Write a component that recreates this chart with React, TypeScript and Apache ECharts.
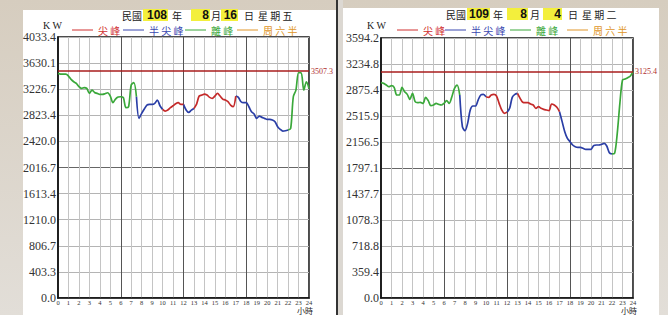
import React, { useEffect, useRef } from "react";
import * as echarts from "echarts";

// time of day, hours (quarter-hour readings)
const hours: number[] = Array.from({ length: 97 }, (_, i) => i * 0.25);

// 民國108年8月16日 星期五 (KW)
const leftLoad: number[] = [
  3471, 3461, 3461, 3461, 3430, 3378, 3342, 3317, 3265, 3239, 3250, 3239,
  3162, 3213, 3177, 3162, 3147, 3147, 3157, 3172, 3121, 3018, 3074, 3105,
  3110, 3095, 2941, 2956, 3291, 3327, 3110, 2776, 2853, 2920, 2982, 2992,
  2992, 3008, 3059, 2971, 2915, 2889, 2904, 2941, 2971, 3002, 3018, 2992,
  2992, 2904, 2868, 2904, 2930, 2997, 3121, 3136, 3152, 3136, 3100, 3085,
  3121, 3162, 3121, 3074, 3059, 3033, 2982, 2956, 3121, 3100, 3033, 3018,
  3018, 2956, 2879, 2843, 2776, 2812, 2791, 2776, 2760, 2760, 2750, 2724,
  2647, 2606, 2580, 2585, 2596, 2621, 3110, 3213, 3481, 3481, 3213, 3342,
  3239,
];

// 民國109年8月4日 星期二 (KW)
const rightLoad: number[] = [
  2977, 2967, 2944, 2921, 2935, 2912, 2806, 2806, 2912, 2852, 2815, 2746,
  2829, 2714, 2700, 2705, 2691, 2774, 2728, 2659, 2668, 2691, 2677, 2668,
  2691, 2728, 2691, 2783, 2898, 2944, 2806, 2368, 2313, 2414, 2599, 2654,
  2654, 2737, 2806, 2815, 2783, 2774, 2806, 2815, 2792, 2691, 2599, 2553,
  2567, 2622, 2774, 2815, 2829, 2760, 2705, 2700, 2700, 2682, 2668, 2622,
  2645, 2622, 2608, 2599, 2590, 2682, 2668, 2636, 2576, 2438, 2299, 2207,
  2161, 2115, 2092, 2083, 2083, 2069, 2055, 2055, 2055, 2106, 2115, 2115,
  2124, 2138, 2101, 2009, 1991, 2000, 2276, 2691, 3014, 3027, 3046, 3069,
  3129,
];

const leftYLabels = ["0.0", "403.3", "806.7", "1210.0", "1613.4", "2016.7", "2420.0", "2823.4", "3226.7", "3630.1", "4033.4"];
const rightYLabels = ["0.0", "359.4", "718.8", "1078.3", "1437.7", "1797.1", "2156.5", "2515.9", "2875.4", "3234.8", "3594.2"];
const leftYMax = 4033.4;
const rightYMax = 3594.2;
const leftLimit = 3507.3;
const rightLimit = 3125.4;
const xTicks = ["0", "1", "2", "3", "4", "5", "6", "7", "8", "9", "10", "11", "12", "13", "14", "15", "16", "17", "18", "19", "20", "21", "22", "23", "24"];

const leftDate = { year: "108", month: "8", day: "16", weekday: "星期五" };
const rightDate = { year: "109", month: "8", day: "4", weekday: "星期二" };

const periods = [
  { name: "離峰", color: "#3aa83a", ranges: [[0, 7.5], [22, 24]] },
  { name: "半尖峰", color: "#2a3ea6", ranges: [[7.5, 10], [12, 13], [17, 22]] },
  { name: "尖峰", color: "#c42a2a", ranges: [[10, 12], [13, 17]] },
];
const legendItems = [
  { name: "尖峰", color: "#d03030" },
  { name: "半尖峰", color: "#3a48b0" },
  { name: "離峰", color: "#3aa83a" },
  { name: "周六半", color: "#e0962a" },
];

const SERIF = "'Liberation Serif', 'DejaVu Serif', serif";
const CJK = "'Noto Sans CJK TC', 'Noto Sans CJK SC', sans-serif";

function App() {
  const ref = useRef<HTMLDivElement>(null);
  useEffect(() => {
    document.body.style.margin = "0";
    const chart = echarts.init(ref.current!, null, { renderer: "svg" });

    const vGridColors = xTicks.map((_, i) => (i % 6 === 0 ? "#555" : "#c4c4c4"));
    const hGridColors = leftYLabels.map((_, i) => (i === 5 ? "#666" : "#b4b4b4"));

    const grids = [
      { left: 58, top: 37, width: 251, height: 261 },
      { left: 381, top: 38, width: 252, height: 260 },
    ];
    const xAxes = grids.map((_, gi) => ({
      type: "value",
      gridIndex: gi,
      min: 0,
      max: 24,
      interval: 1,
      axisLine: { show: true, lineStyle: { color: "#111", width: 1.5 } },
      axisTick: { show: false },
      axisLabel: { fontSize: 6.5, fontFamily: SERIF, color: "#333", margin: 1, formatter: (_v: number, i: number) => xTicks[i] },
      splitLine: { show: true, lineStyle: { color: vGridColors, width: 1 } },
    }));
    const yAxes = [
      { max: leftYMax, labels: leftYLabels },
      { max: rightYMax, labels: rightYLabels },
    ].map((a, gi) => ({
      type: "value",
      gridIndex: gi,
      min: 0,
      max: a.max,
      interval: a.max / 10,
      axisLine: { show: true, lineStyle: { color: "#111", width: 1.5 } },
      axisTick: { show: false },
      axisLabel: { fontSize: 12, fontFamily: SERIF, color: "#333", margin: 2, formatter: (_v: number, i: number) => a.labels[i] },
      splitLine: { show: true, lineStyle: { color: hGridColors, width: 1 } },
    }));

    const inPeriod = (t: number, ranges: number[][]) => ranges.some(([a, b]) => t >= a && t <= b);
    const series: any[] = [];
    [
      { data: leftLoad, limit: leftLimit },
      { data: rightLoad, limit: rightLimit },
    ].forEach((c, gi) => {
      periods.forEach((p, pi) => {
        series.push({
          type: "line",
          name: p.name,
          xAxisIndex: gi,
          yAxisIndex: gi,
          symbol: "none",
          smooth: 0.3,
          connectNulls: false,
          lineStyle: { color: p.color, width: 1.7 },
          data: hours.map((t, i) => [t, inPeriod(t, p.ranges) ? c.data[i] : null]),
          markLine:
            pi === 0
              ? {
                  silent: true,
                  symbol: "none",
                  lineStyle: { color: "#a81c1c", width: 1.5, type: "solid" },
                  label: { show: true, position: "end", formatter: String(c.limit), color: "#b03030", fontSize: 8, fontFamily: SERIF, distance: 2 },
                  data: [{ yAxis: c.limit }],
                }
              : undefined,
        });
      });
    });

    const graphics: any[] = [];
    // background and panels
    graphics.push({
      type: "rect",
      z: -10,
      shape: { x: 0, y: 0, width: 668, height: 315 },
      style: {
        fill: new echarts.graphic.LinearGradient(0, 0, 0, 1, [
          { offset: 0, color: "#d6cdbf" },
          { offset: 1, color: "#e2ded8" },
        ]),
      },
    });
    graphics.push({ type: "rect", z: -9, shape: { x: 23, y: 10, width: 313, height: 310 }, style: { fill: "#ffffff" } });
    graphics.push({ type: "rect", z: -9, shape: { x: 343, y: 8, width: 316, height: 310 }, style: { fill: "#ffffff" } });
    graphics.push({ type: "rect", z: -9, shape: { x: 336, y: 0, width: 2, height: 315 }, style: { fill: "#333" } });
    graphics.push({ type: "rect", z: -9, shape: { x: 338, y: 0, width: 5, height: 315 }, style: { fill: "#dcd8d2" } });

    const header = (
      d: typeof leftDate,
      xs: { min: number; yb: [number, number]; y: number; nian: number; mb: [number, number]; yue: number; db: [number, number]; ri: number; wk: number }
    ) => {
      const txt = (x: number, t: string) =>
        graphics.push({ type: "text", x, y: xs.y, style: { text: t, font: `10px ${CJK}`, fill: "#222", textVerticalAlign: "middle", textAlign: "left" } });
      const box = (b: [number, number], t: string) => {
        graphics.push({ type: "rect", shape: { x: b[0], y: xs.y - 6, width: b[1] - b[0], height: 12 }, style: { fill: "#f3ef3c" } });
        graphics.push({ type: "text", x: b[1] - 1, y: xs.y, style: { text: t, font: `bold 12px 'Liberation Sans', Arial, sans-serif`, fill: "#111", textVerticalAlign: "middle", textAlign: "right" } });
      };
      txt(xs.min, "民國");
      box(xs.yb, d.year);
      txt(xs.nian, "年");
      box(xs.mb, d.month);
      txt(xs.yue, "月");
      box(xs.db, d.day);
      txt(xs.ri, "日");
      txt(xs.wk, d.weekday.split("").join(" "));
    };
    header(leftDate, { min: 122, yb: [143, 168], y: 15, nian: 172, mb: [191, 210], yue: 211, db: [221, 238], ri: 244, wk: 258 });
    header(rightDate, { min: 446, yb: [467, 490], y: 14, nian: 493, mb: [507, 528], yue: 530, db: [543, 562], ri: 568, wk: 582 });

    const legend = (xs: number[], y: number) => {
      legendItems.forEach((it, i) => {
        const x = xs[i];
        graphics.push({ type: "line", shape: { x1: x, y1: y, x2: x + 21, y2: y }, style: { stroke: it.color, lineWidth: 1 } });
        graphics.push({ type: "text", x: x + 26, y, style: { text: it.name.split("").join(" "), font: `10px ${CJK}`, fill: it.color, textVerticalAlign: "middle" } });
      });
    };
    legend([72, 123, 185, 237], 30);
    legend([397, 445, 510, 567], 30);

    graphics.push({ type: "text", x: 43, y: 25, style: { text: "K W", font: `10px ${SERIF}`, fill: "#222", textVerticalAlign: "middle" } });
    graphics.push({ type: "text", x: 367, y: 25, style: { text: "K W", font: `10px ${SERIF}`, fill: "#222", textVerticalAlign: "middle" } });
    graphics.push({ type: "text", x: 297, y: 310.5, style: { text: "小時", font: `8px ${CJK}`, fill: "#222", textVerticalAlign: "middle" } });
    graphics.push({ type: "text", x: 621, y: 310.5, style: { text: "小時", font: `8px ${CJK}`, fill: "#222", textVerticalAlign: "middle" } });

    chart.setOption({
      animation: false,
      grid: grids.map((g) => ({ ...g, show: true, borderColor: "#111", borderWidth: 1.5, backgroundColor: "#fff" })),
      xAxis: xAxes,
      yAxis: yAxes,
      series,
      graphic: graphics,
    });
    return () => chart.dispose();
  }, []);
  return <div ref={ref} style={{ width: 668, height: 315 }} />;
}

export default App;
